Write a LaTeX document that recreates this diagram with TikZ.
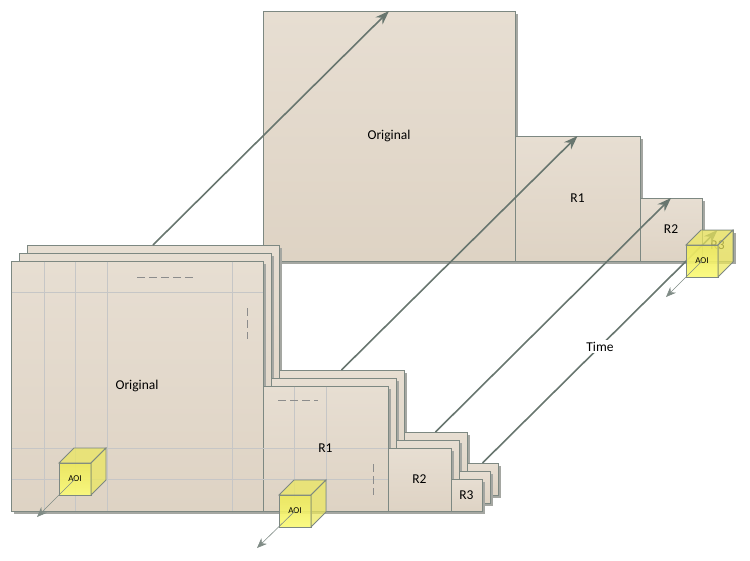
\documentclass[tikz,border=0pt]{standalone}
\usepackage{fontspec}
\setmainfont{Carlito}
\usetikzlibrary{arrows.meta,shadows}
\definecolor{boxtop}{RGB}{231,222,210}
\definecolor{boxbot}{RGB}{222,211,196}
\definecolor{boxedge}{RGB}{125,136,130}
\definecolor{boxshade}{RGB}{165,167,162}
\definecolor{tilecol}{RGB}{198,198,198}
\definecolor{dashcol}{RGB}{140,140,140}
\definecolor{arrowcol}{RGB}{104,118,111}
\definecolor{aoiyel}{RGB}{236,232,92}
\definecolor{aoilight}{RGB}{255,255,128}

\begin{document}
\begin{tikzpicture}[x=1pt,y=-1pt,>={Stealth[length=14pt,width=10pt]},
  slab/.style={draw=boxedge,line width=1pt,top color=boxtop,bottom color=boxbot,
    inner sep=0pt,outer sep=0pt,anchor=north west,font=\fontsize{13.5}{16}\selectfont,
    drop shadow={shadow xshift=3pt,shadow yshift=-3pt,fill=boxshade,opacity=1}},
  tileline/.style={draw=tilecol,line width=0.8pt},
  gapmark/.style={draw=dashcol,line width=1pt,dash pattern=on 8pt off 4pt},
  timearrow/.style={->,draw=arrowcol,line width=1.6pt},
  aoiside/.style={draw=boxedge,line width=0.8pt,fill=aoiyel,fill opacity=0.72},
  aoiface/.style={aoiside,minimum size=32pt,inner sep=0pt,outer sep=0pt,
    top color=aoiyel,bottom color=aoilight,text opacity=1,font=\fontsize{9}{10}\selectfont},
  drift/.style={-{Stealth[length=10pt,width=8pt]},draw=arrowcol!85,line width=0.6pt}]
\useasboundingbox (0,0) rectangle (750,560);

% stored levels (top row)
\node[slab,minimum width=252,minimum height=250] (topOrig) at (263,11) {Original};
\node[slab,minimum width=125,minimum height=125] (topR1) at (515,136) {R1};
\node[slab,minimum width=62,minimum height=63] (topR2) at (640,198) {R2};
\node[slab,minimum width=31,minimum height=31] (topR3) at (702,230) {R3};

% time stacks
\node[slab,minimum width=252,minimum height=250] (origB) at (27,245) {};
\node[slab,minimum width=252,minimum height=250] (origM) at (19,253) {};
\node[slab,minimum width=252,minimum height=250] (origF) at (11,261) {Original};

\node[slab,minimum width=125,minimum height=125] (r1B) at (279,370) {};
\node[slab,minimum width=125,minimum height=125] (r1M) at (271,378) {};
\node[slab,minimum width=125,minimum height=125] (r1F) at (263,386) {};

\node[slab,minimum width=63,minimum height=63] (r2B) at (404,432) {};
\node[slab,minimum width=63,minimum height=63] (r2M) at (396,440) {};
\node[slab,minimum width=63,minimum height=63] (r2F) at (388,448) {R2};

\node[slab,minimum width=31,minimum height=32] (r3B) at (467,463) {};
\node[slab,minimum width=31,minimum height=32] (r3M) at (459,471) {};
\node[slab,minimum width=31,minimum height=32] (r3F) at (451,479) {R3};

% tiles
\foreach \x in {44,75,107,232} \draw[tileline] (\x,261.5) -- (\x,510.5);
\foreach \x in {294,326} \draw[tileline] (\x,386.5) -- (\x,510.5);
\draw[tileline] (11.5,292) -- (262.5,292);
\draw[tileline] (11.5,448) -- (387.5,448);
\draw[tileline] (11.5,479) -- (387.5,479);
\draw[gapmark] (137,277) -- (193,277);
\draw[gapmark] (247,308) -- (247,339);
\draw[gapmark] (278,400) -- (318,400);
\draw[gapmark] (373,464) -- (373,495);
\node[font=\fontsize{13.5}{16}\selectfont] (r1lab) at (r1F.center) {R1};

% links to stored levels
\draw[timearrow] (origB.north) -- (topOrig.north);
\draw[timearrow] (r1B.north) -- (topR1.north);
\draw[timearrow] (r2B.north) -- (topR2.north);
\draw[timearrow] (r3B.north) -- node[pos=0.5,fill=white,inner sep=2pt,text=black,font=\fontsize{13.5}{16}\selectfont] {Time} (topR3.north);

% AOI cubes
\node[aoiface] (aoi1) at (75,479) {AOI};
\draw[aoiside] (aoi1.north west) -- ++(15,-15) -- ++(32,0) -- (aoi1.north east) -- cycle;
\draw[aoiside] (aoi1.north east) -- ++(15,-15) -- ++(0,32) -- (aoi1.south east) -- cycle;
\node[aoiface] (aoi2) at (295,511) {AOI};
\draw[aoiside] (aoi2.north west) -- ++(15,-15) -- ++(32,0) -- (aoi2.north east) -- cycle;
\draw[aoiside] (aoi2.north east) -- ++(15,-15) -- ++(0,32) -- (aoi2.south east) -- cycle;
\node[aoiface] (aoi3) at (702,261) {AOI};
\draw[aoiside] (aoi3.north west) -- ++(15,-15) -- ++(32,0) -- (aoi3.north east) -- cycle;
\draw[aoiside] (aoi3.north east) -- ++(15,-15) -- ++(0,32) -- (aoi3.south east) -- cycle;

\coordinate (aoi1end) at (37,517);
\coordinate (aoi2end) at (257,548);
\coordinate (aoi3end) at (666,297);
\draw[drift] (aoi1.center) -- (aoi1end);
\draw[drift] (aoi2.center) -- (aoi2end);
\draw[drift] (aoi3.center) -- (aoi3end);
\end{tikzpicture}
\end{document}
